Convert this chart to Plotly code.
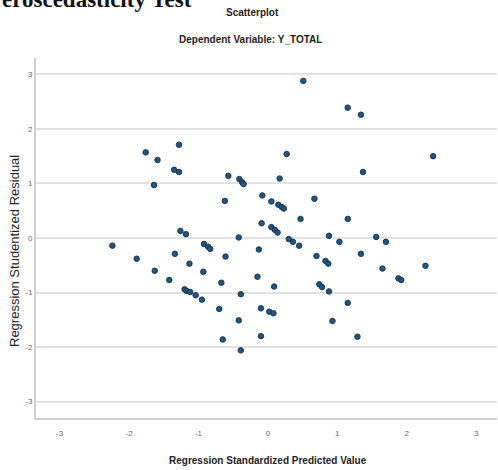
import plotly.graph_objects as go

pred_x = [-2.24, -1.89, -1.76, -1.64, -1.59, -1.63, -1.42, -1.35, -1.34, -1.28,
          -1.28, -1.26, -1.18, -1.13, -1.20, -1.17, -1.12, -1.04, -0.95, -0.93,
          -0.92, -0.86, -0.83, -0.70, -0.67, -0.65, -0.62, -0.61, -0.57, -0.42,
          -0.42, -0.41, -0.37, -0.35, -0.39, -0.39, -0.15, -0.13, -0.10, -0.10,
          -0.08, -0.09, 0.02, 0.05, 0.05, 0.10, 0.14, 0.08, 0.09, 0.15,
          0.20, 0.23, 0.17, 0.27, 0.30, 0.36, 0.45, 0.47, 0.51, 0.67,
          0.70, 0.74, 0.78, 0.83, 0.87, 0.88, 0.88, 0.93, 1.03, 1.15,
          1.15, 1.15, 1.29, 1.34, 1.34, 1.37, 1.56, 1.65, 1.70, 1.88,
          1.92, 2.27, 2.38]
resid_y = [-0.14, -0.38, 1.57, 0.97, 1.43, -0.60, -0.77, 1.25, -0.29, 1.71,
           1.21, 0.13, 0.07, -0.47, -0.94, -0.97, -0.99, -1.05, -1.13, -0.62,
           -0.11, -0.16, -0.20, -1.30, -0.82, -1.86, 0.68, -0.34, 1.14, 0.01,
           -1.51, 1.08, 1.02, 0.99, -1.03, -2.06, -0.71, -0.21, -1.29, -1.80,
           0.78, 0.27, -1.35, 0.67, 0.20, 0.15, 0.10, -1.38, -0.89, 0.61,
           0.57, 0.54, 1.09, 1.54, -0.02, -0.07, -0.14, 0.35, 2.88, 0.72,
           -0.33, -0.85, -0.90, -0.42, -0.47, 0.04, -0.98, -1.52, -0.07, 2.39,
           0.35, -1.19, -1.81, 2.26, -0.29, 1.21, 0.02, -0.56, -0.07, -0.74,
           -0.77, -0.51, 1.50]

tick_vals = [-3, -2, -1, 0, 1, 2, 3]
tick_text = ["-3", "-2", "-1", "0", "1", "2", "3"]

narrow = "Liberation Sans Narrow, Arial Narrow, Liberation Sans, Arial, sans-serif"
sans = "Liberation Sans, Arial, sans-serif"

W, H = 498, 470
L, R, T, B = 36, 1, 58, 52
PW, PH = W - L - R, H - T - B


def px_x(p):
    return (p - L) / PW


def px_y(p):
    return (H - B - p) / PH


fig = go.Figure()
fig.add_trace(go.Scatter(
    x=pred_x, y=resid_y, mode="markers",
    marker=dict(size=5.5, color="#22557f", line=dict(color="#1b3550", width=1)),
    showlegend=False, hoverinfo="x+y",
))

fig.update_layout(
    width=W, height=H,
    margin=dict(l=L, r=R, t=T, b=B),
    paper_bgcolor="white", plot_bgcolor="white",
    font=dict(family=sans, color="#222"),
    annotations=[
        dict(text="<b>eroscedasticity Test</b>", xref="paper", yref="paper",
             x=px_x(0), y=px_y(0), xanchor="left", yanchor="middle",
             showarrow=False,
             font=dict(family="Liberation Serif, DejaVu Serif, serif", size=23, color="#111")),
        dict(text="<b>Scatterplot</b>", xref="paper", yref="paper",
             x=px_x(252), y=px_y(12), xanchor="center", yanchor="middle",
             showarrow=False, font=dict(family=narrow, size=10, color="#222")),
        dict(text="<b>Dependent Variable: Y_TOTAL</b>", xref="paper", yref="paper",
             x=px_x(250), y=px_y(40), xanchor="center", yanchor="middle",
             showarrow=False, font=dict(family=narrow, size=10, color="#222")),
        dict(text="<b>Regression Standardized Predicted Value</b>", xref="paper", yref="paper",
             x=px_x(268), y=px_y(460), xanchor="center", yanchor="middle",
             showarrow=False, font=dict(family=narrow, size=10, color="#222")),
        dict(text="Regression Studentized Residual", xref="paper", yref="paper",
             x=px_x(14), y=px_y(251), xanchor="center", yanchor="middle", textangle=-90,
             showarrow=False, font=dict(family=sans, size=13, color="#222")),
    ],
    xaxis=dict(
        range=[-3.34, 3.3], tickvals=tick_vals, ticktext=tick_text,
        showgrid=False, zeroline=False, automargin=False,
        showline=True, linecolor="#d0d0d0", linewidth=2,
        ticks="outside", ticklen=6, tickcolor="rgba(0,0,0,0)",
        tickfont=dict(size=8, color="#666", family=narrow),
    ),
    yaxis=dict(
        range=[-3.3, 3.3], tickvals=tick_vals, ticktext=tick_text,
        showgrid=True, gridcolor="#e2e2e2", gridwidth=2, zeroline=False, automargin=False,
        showline=True, linecolor="#d0d0d0", linewidth=2,
        ticks="", tickfont=dict(size=8, color="#666", family=narrow),
    ),
)

fig.write_html("out.html", config={"displayModeBar": False},
               post_script="document.body.style.margin='0';")
